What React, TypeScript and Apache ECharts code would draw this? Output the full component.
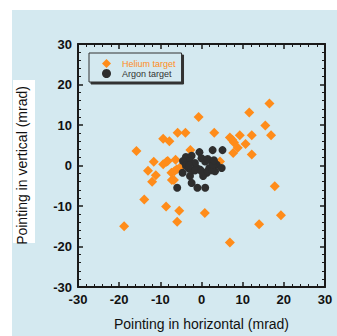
import React, { useEffect, useRef } from "react";
import * as echarts from "echarts";

const heliumX = [-15.8, -11.6, -13.0, -12.0, -11.1, -13.9, -18.8, -9.3, -7.8, -9.3, -8.5, -8.2, -8.6, -6.3, -7.3, -6.6, -7.2, -6.7, -6.0, -5.2, -5.8, -3.9, -5.4, -5.9, -0.7, -2.7, 3.1, 0.8, 6.9, 6.9, 7.5, 7.9, 7.7, 8.8, 9.3, 10.7, 11.6, 12.2, 12.2, 15.5, 16.5, 16.9, 17.8, 14.0, 19.3, 4.5];
const heliumY = [3.6, 0.9, -1.3, -4.0, -2.4, -8.4, -15.0, 6.6, 6.0, 0.3, 0.9, 1.1, -10.1, 1.4, -1.8, -1.4, -3.6, -3.6, -0.9, -0.5, 8.1, 8.1, -11.2, -13.9, 12.0, 3.8, 8.1, -11.7, -19.0, 6.9, 6.3, 5.7, 3.1, 4.4, 7.5, 5.3, 13.1, 7.5, 2.7, 9.9, 15.3, 7.5, -5.1, -14.5, -12.3, 1.0];

const argonX = [-0.5, 2.7, 5.1, -3.8, -2.4, -2.8, -3.5, -4.6, -2.8, -0.4, 1.3, 0.4, 1.9, 2.5, 0.9, -1.6, -1.2, 3.7, 4.9, 3.3, -2.4, -5.9, -1.0, 0.9, -4.5, 0.0, -3.0, -2.0, -3.8, -3.0, -1.5, 0.0, 1.5, 2.6, 2.8, 1.5, 3.0];
const argonY = [3.3, 3.8, 3.8, 2.1, 2.4, 1.0, -0.2, -1.8, -2.6, -1.0, -1.8, -2.6, -0.6, 1.0, 1.0, 0.6, -0.6, 0.2, -0.6, -1.4, -4.3, -5.5, -5.5, -5.5, 1.1, 1.8, -0.8, -1.2, 0.0, 0.0, -1.2, -1.4, -1.4, -1.2, 0.2, 1.6, 1.3];

const axisMin = -30;
const axisMax = 30;
const axisStep = 10;

const seriesNames = ["Helium target", "Argon target"];
const xTitle = "Pointing in horizontal (mrad)";
const yTitle = "Pointing in vertical (mrad)";

const ORANGE = "#FF8C1A";
const DARK = "#2E2E2E";
const BG = "#D4E9F0";
const FONT = "'Liberation Sans', Arial, Helvetica, sans-serif";

export default function App() {
  const ref = useRef<HTMLDivElement>(null);
  useEffect(() => {
    if (!ref.current) return;
    const chart = echarts.init(ref.current, null, { renderer: "svg" });
    const helium = heliumX.map((x, i) => [x, heliumY[i]]);
    const argon = argonX.map((x, i) => [x, argonY[i]]);

    const baseAxis = (pos: string, showLabel: boolean) => ({
      type: "value",
      position: pos,
      min: axisMin,
      max: axisMax,
      interval: axisStep,
      splitLine: { show: false },
      axisLine: { show: true, onZero: false, lineStyle: { color: "#1a1a1a", width: 2 } },
      axisTick: { show: true, inside: true, length: 5, lineStyle: { color: "#1a1a1a", width: 1.5 } },
      minorTick: { show: true, splitNumber: 5, length: 3, lineStyle: { color: "#1a1a1a", width: 1 } },
      axisLabel: {
        show: showLabel,
        color: "#111",
        fontFamily: FONT,
        fontSize: 13,
        fontWeight: "bold",
        margin: 6,
      },
    });

    chart.setOption({
      animation: false,
      backgroundColor: "#ffffff",
      textStyle: { fontFamily: FONT },
      graphic: [
        { type: "rect", z: -10, shape: { x: 12, y: 10, width: 330, height: 330 }, style: { fill: BG } },
        { type: "rect", z: -9, shape: { x: 13, y: 80, width: 22, height: 163 }, style: { fill: "#ffffff" } },
      ],
      grid: { left: 78, top: 44, right: 12, bottom: 45, containLabel: false },
      legend: {
        orient: "vertical",
        left: 89,
        top: 53,
        padding: [6, 6, 4, 13],
        itemGap: 1,
        itemWidth: 9,
        itemHeight: 9,
        backgroundColor: BG,
        borderColor: "#333",
        borderWidth: 1,
        shadowColor: "#333",
        shadowOffsetX: 2,
        shadowOffsetY: 2,
        shadowBlur: 0,
        data: [
          { name: seriesNames[0], textStyle: { color: ORANGE } },
          { name: seriesNames[1], textStyle: { color: "#333" } },
        ],
        textStyle: { fontSize: 9, lineHeight: 9, fontFamily: FONT, padding: [0, 0, 0, 6] },
      },
      xAxis: [
        {
          ...baseAxis("bottom", true),
          name: xTitle,
          nameLocation: "middle",
          nameGap: 30,
          nameTextStyle: { color: "#111", fontSize: 14, fontFamily: FONT },
        },
        { ...baseAxis("top", false) },
      ],
      yAxis: [
        {
          ...baseAxis("left", true),
          name: yTitle,
          nameLocation: "middle",
          nameGap: 49,
          nameTextStyle: { color: "#111", fontSize: 14, fontFamily: FONT },
        },
        { ...baseAxis("right", false) },
      ],
      series: [
        {
          name: seriesNames[0],
          type: "scatter",
          symbol: "diamond",
          symbolSize: 10,
          itemStyle: { color: ORANGE, opacity: 1 },
          data: helium,
          z: 2,
        },
        {
          name: seriesNames[1],
          type: "scatter",
          symbol: "circle",
          symbolSize: 8,
          itemStyle: { color: DARK, opacity: 1 },
          data: argon,
          z: 3,
        },
      ],
    });
    return () => chart.dispose();
  }, []);
  return <div ref={ref} style={{ position: "fixed", left: 0, top: 0, width: 337, height: 336 }} />;
}
